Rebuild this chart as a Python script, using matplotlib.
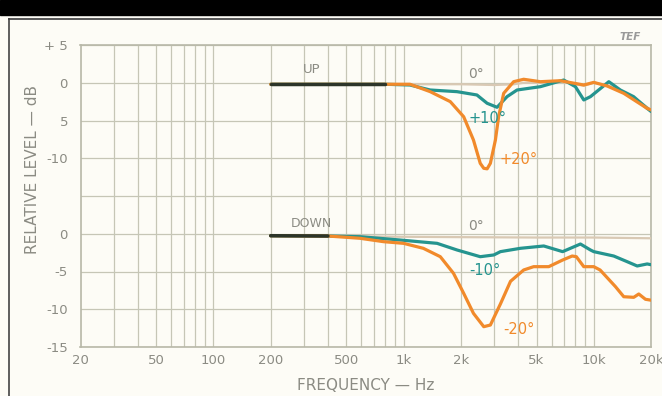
import numpy as np
import matplotlib.pyplot as plt
from matplotlib.patches import Rectangle
from matplotlib.lines import Line2D

# UP panel (0 dB line at 0)
up_0_freq = [200, 1000, 2000, 3000, 3800, 4300, 5200, 6700, 8000, 8900, 10000, 11800, 14400, 17000, 20000]
up_0_db = [-0.2, -0.2, -0.2, -0.3, -0.2, 0.0, 0.0, 0.2, -0.2, -0.4, 0.0, -0.3, -1.3, -2.3, -3.6]

up_10_freq = [200, 500, 800, 1080, 1380, 1910, 2430, 2750, 3100, 3500, 3950, 5240, 6950, 8010,
              8860, 9610, 12000, 13800, 16200, 19100, 20000]
up_10_db = [-0.2, -0.2, -0.2, -0.3, -0.96, -1.18, -1.62, -2.72, -3.25, -1.84, -0.96, -0.52, 0.36, -0.52,
            -2.28, -1.84, 0.14, -0.96, -1.84, -3.4, -3.8]

up_20_freq = [200, 500, 800, 1080, 1380, 1760, 2070, 2330, 2530, 2640, 2750, 2860, 3040, 3160, 3360,
              3790, 4280, 5240, 6680, 8860, 10000, 11760, 14380, 19100, 20000]
up_20_db = [-0.2, -0.2, -0.2, -0.2, -1.18, -2.5, -4.5, -7.58, -10.67, -11.33, -11.4, -10.67, -7.58, -4.5, -1.4,
            0.14, 0.46, 0.14, 0.27, -0.3, 0.05, -0.43, -1.4, -3.4, -3.6]

# DOWN panel (own 0 dB line, drawn 20 dB lower)
dn_0_freq = [200, 600, 1000, 2000, 5000, 10000, 20000]
dn_0_db = [-0.26, -0.35, -0.4, -0.45, -0.5, -0.5, -0.6]

dn_10_freq = [200, 400, 590, 960, 1500, 1910, 2530, 2980, 3230, 4110, 5460, 6860, 8510, 9610, 10000,
              12740, 14990, 16920, 19100, 20000]
dn_10_db = [-0.26, -0.3, -0.39, -0.83, -1.27, -2.15, -3.04, -2.81, -2.37, -1.93, -1.62, -2.37, -1.36, -2.15, -2.37,
            -2.95, -3.7, -4.27, -4.0, -4.1]

dn_20_freq = [200, 400, 590, 785, 1000, 1270, 1560, 1830, 2070, 2330, 2640, 2860, 3230, 3650, 4280, 4830,
              5800, 6860, 7700, 8100, 8860, 10000, 10800, 13000, 14380, 16230, 17250, 18700, 20000]
dn_20_db = [-0.26, -0.3, -0.6, -1.05, -1.27, -1.93, -3.04, -5.24, -7.89, -10.54, -12.31, -12.09, -9.3, -6.3, -4.8, -4.36,
            -4.36, -3.48, -2.95, -3.04, -4.36, -4.36, -4.8, -7.0, -8.34, -8.42, -7.98, -8.68, -8.8]

x_ticks = [20, 50, 100, 200, 500, 1000, 2000, 5000, 10000, 20000]
x_labels = ["20", "50", "100", "200", "500", "1k", "2k", "5k", "10k", "20k"]
y_ticks = [5, 0, -5, -10, -15, -20, -25, -30, -35]
y_labels = ["+ 5", "0", "5", "-10", "", "0", "-5", "-10", "-15"]

DN_OFFSET = -20
ORANGE = "#f18a2b"
TEAL = "#25948f"
DARK = "#2c3529"
FAINT = "#d9c9b4"
GRID = "#c6c6b6"
TXT = "#8b8b83"
BG = "#fdfcf6"

fig = plt.figure(figsize=(6.62, 3.96), dpi=100, facecolor=BG)
ax = fig.add_axes([80.5 / 662, 1 - 347 / 396, (651 - 80.5) / 662, (347 - 45) / 396])
ax.set_facecolor(BG)

# page decorations: black bar on top, frame lines
fig.add_artist(Rectangle((0, 1 - 15 / 396), 1, 15 / 396, transform=fig.transFigure, color="black"))
fig.add_artist(Line2D([8.5 / 662, 1], [1 - 18.5 / 396] * 2, transform=fig.transFigure, color="#555", lw=1.4))
fig.add_artist(Line2D([8.5 / 662] * 2, [0, 1 - 18.5 / 396], transform=fig.transFigure, color="#444", lw=1.2))

ax.set_xscale("log")
ax.set_xlim(20, 20000)
ax.set_ylim(-35, 5)

minor = [k * d for d in [10, 100, 1000, 10000] for k in range(1, 10) if 20 <= k * d <= 20000]
ax.set_xticks(minor, minor=True)
ax.set_xticklabels([], minor=True)
ax.set_xticks(x_ticks)
ax.set_xticklabels(x_labels)
ax.set_yticks(y_ticks)
ax.set_yticklabels(y_labels)
ax.tick_params(which="both", length=0, colors=TXT, labelsize=9.5)
ax.tick_params(axis="y", pad=9)
ax.tick_params(axis="x", pad=5)
ax.grid(which="both", color=GRID, lw=0.9)
for s in ax.spines.values():
    s.set_color("#b8b8a8")
    s.set_linewidth(1.2)


def draw(freq, db, color, offset, split, lw=2.3):
    f = np.array(freq)
    y = np.array(db) + offset
    ax.plot(f, y, color=color, lw=lw, solid_capstyle="round", solid_joinstyle="round", zorder=3)
    if split:
        m = f <= split
        ax.plot(f[m], y[m], color=DARK, lw=2.5, solid_capstyle="round", zorder=4)


draw(up_0_freq, up_0_db, FAINT, 0, None, lw=1.6)
draw(up_10_freq, up_10_db, TEAL, 0, None)
draw(up_20_freq, up_20_db, ORANGE, 0, 800)
draw(dn_0_freq, dn_0_db, FAINT, DN_OFFSET, None, lw=1.6)
draw(dn_10_freq, dn_10_db, TEAL, DN_OFFSET, None)
draw(dn_20_freq, dn_20_db, ORANGE, DN_OFFSET, 500)

# curve labels
ax.text(330, 1.8, "UP", color=TXT, fontsize=9.5, ha="center", va="center")
ax.text(2390, 1.2, "0°", color=TXT, fontsize=10, ha="center", va="center")
ax.text(2760, -4.8, "+10°", color=TEAL, fontsize=10.5, ha="center", va="center")
ax.text(4020, -10.1, "+20°", color=ORANGE, fontsize=10.5, ha="center", va="center")
ax.text(327, -18.7, "DOWN", color=TXT, fontsize=9, ha="center", va="center")
ax.text(2400, -19.0, "0°", color=TXT, fontsize=10, ha="center", va="center")
ax.text(2690, -24.9, "-10°", color=TEAL, fontsize=10.5, ha="center", va="center")
ax.text(4020, -32.7, "-20°", color=ORANGE, fontsize=10.5, ha="center", va="center")

ax.set_xlabel("FREQUENCY — Hz", color=TXT, fontsize=11, labelpad=8)
fig.text(33 / 662, 1 - 170 / 396, "RELATIVE LEVEL — dB", color=TXT, fontsize=11,
         rotation=90, ha="center", va="center")
fig.text(630 / 662, 1 - 37 / 396, "TEF", color="#999", fontsize=7.5, style="italic",
         fontweight="bold", ha="center", va="center")

fig.savefig("out.png", dpi=100, facecolor=BG)
